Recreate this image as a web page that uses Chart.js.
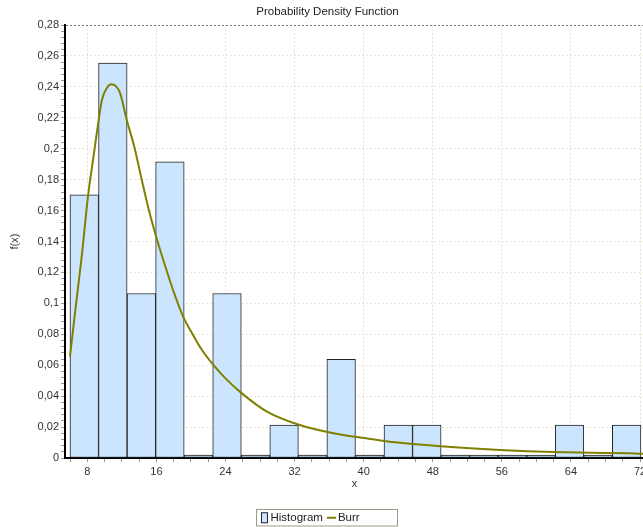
<!DOCTYPE html>
<html>
<head>
<meta charset="utf-8">
<title>Probability Density Function</title>
<script src="https://cdn.jsdelivr.net/npm/chart.js@4.4.1/dist/chart.umd.min.js"></script>
<style>
  html, body { margin: 0; padding: 0; background: #fff; overflow: hidden; }
</style>
</head>
<body>
<canvas id="pdfChart" width="655" height="527"></canvas>
<script>
// ---- data ----
const binCenters = [7.65, 10.96, 14.26, 17.57, 20.87, 24.18, 27.48, 30.79, 34.09, 37.40,
                    40.70, 44.01, 47.31, 50.62, 53.92, 57.23, 60.53, 63.84, 67.14, 70.45];
const histValues = [0.1702, 0.2553, 0.1064, 0.1915, 0, 0.1064, 0, 0.0213, 0, 0.0638,
                    0, 0.0213, 0.0213, 0, 0, 0, 0, 0.0213, 0, 0.0213];

const burrX = [6.0, 6.6, 7.35, 8.1, 8.7, 9.1, 9.7, 10.25, 10.75, 11.3, 11.8, 12.55, 13.5, 14.3,
               15.1, 15.85, 16.8, 18.0, 19.1, 20.2, 21.2, 22.6, 24.0, 25.9, 28.8, 32.6, 36.5,
               40.3, 43.0, 48.5, 55.8, 62.0, 66.5, 70.8, 72.46];
const burrY = [0.0655, 0.095, 0.130, 0.170, 0.194, 0.210, 0.2316, 0.2391, 0.2417, 0.2405, 0.2360,
               0.2190, 0.2000, 0.180, 0.161, 0.1455, 0.128, 0.1075, 0.0914, 0.080, 0.0705, 0.0602,
               0.0515, 0.0418, 0.030, 0.0213, 0.016, 0.0127, 0.0105, 0.0078, 0.0052, 0.0038,
               0.0034, 0.0030, 0.0027];

const xTickLabels = [8, 16, 24, 32, 40, 48, 56, 64, 72];
const yTickLabels = ["0", "0,02", "0,04", "0,06", "0,08", "0,1", "0,12", "0,14",
                     "0,16", "0,18", "0,2", "0,22", "0,24", "0,26", "0,28"];

// ---- styles ----
const GRID = "rgba(222,222,196,0.75)";
const isMajorY = (v) => Math.abs(v / 0.02 - Math.round(v / 0.02)) < 1e-6;

Chart.defaults.font.family = "'Liberation Sans', Arial, sans-serif";
Chart.defaults.font.size = 11;
Chart.defaults.color = "#333";

// 凡例（枠つき）を自前で描く
const pdfLegend = {
  id: "pdfLegend",
  afterDraw(chart) {
    const ctx = chart.ctx;
    const [hist, burr] = chart.data.datasets;
    const boxL = 256.5, boxT = 509.5, boxW = 141, boxH = 16.5;
    const cy = boxT + boxH / 2;
    ctx.save();
    ctx.strokeStyle = "#9a9a88";
    ctx.lineWidth = 1;
    ctx.strokeRect(boxL, boxT, boxW, boxH);

    // Histogram swatch
    let x = boxL + 5;
    ctx.fillStyle = hist.backgroundColor;
    ctx.fillRect(x, cy - 5, 6, 10);
    ctx.strokeStyle = hist.borderColor;
    ctx.strokeRect(x, cy - 5, 6, 10);
    x += 9;
    ctx.font = "11.5px 'Liberation Sans', Arial, sans-serif";
    ctx.fillStyle = "#222";
    ctx.textBaseline = "middle";
    ctx.fillText(hist.label, x, cy);
    x += ctx.measureText(hist.label).width + 4;

    // Burr line
    ctx.strokeStyle = burr.borderColor;
    ctx.lineWidth = 2;
    ctx.beginPath();
    ctx.moveTo(x, cy);
    ctx.lineTo(x + 9, cy);
    ctx.stroke();
    x += 11;
    ctx.fillText(burr.label, x, cy);
    ctx.restore();
  }
};

new Chart(document.getElementById("pdfChart"), {
  type: "bar",
  data: {
    datasets: [
      {
        type: "bar",
        label: "Histogram",
        data: binCenters.map((x, i) => ({ x, y: histValues[i] })),
        backgroundColor: "#cce5ff",
        borderColor: "#222",
        borderWidth: 1,
        borderSkipped: false,
        barThickness: "flex",
        categoryPercentage: 1,
        barPercentage: 1,
        minBarLength: 3,
        order: 1
      },
      {
        type: "line",
        label: "Burr",
        data: burrX.map((x, i) => ({ x, y: burrY[i] })),
        borderColor: "#808000",
        borderWidth: 2,
        pointRadius: 0,
        cubicInterpolationMode: "monotone",
        fill: false,
        order: 0
      }
    ]
  },
  options: {
    responsive: false,
    animation: false,
    devicePixelRatio: 1,
    layout: { padding: { left: 0, right: 0, top: 0, bottom: 32 } },
    plugins: {
      legend: { display: false },
      tooltip: { enabled: false },
      title: {
        display: true,
        text: "Probability Density Function",
        color: "#222",
        font: { size: 11.5, weight: "normal" },
        padding: { top: 5, bottom: 6.2 }
      }
    },
    scales: {
      x: {
        type: "linear",
        min: 5.42,
        max: 72.46,
        offset: false,
        afterFit: (s) => { s.height = 37; s.paddingRight = 11; },
        ticks: {
          stepSize: 2,
          includeBounds: false,
          autoSkip: false,
          maxRotation: 0,
          padding: 3,
          color: "#333",
          callback: (v) => xTickLabels.includes(v) ? String(v) : ""
        },
        grid: {
          offset: false,
          color: (c) => c.tick && xTickLabels.includes(c.tick.value) ? GRID : "transparent",
          tickColor: "#999",
          tickLength: 4
        },
        border: { color: "#000", width: 2, dash: [2, 2] },
        title: { display: true, text: "x", color: "#333", padding: { top: 0, bottom: 4 } }
      },
      y: {
        min: 0,
        max: 0.28,
        afterFit: (s) => { s.width = 65; },
        ticks: {
          stepSize: 0.004,
          autoSkip: false,
          padding: 2,
          color: "#333",
          callback: (v) => isMajorY(v) ? yTickLabels[Math.round(v / 0.02)] : ""
        },
        grid: {
          color: (c) => {
            if (!c.tick || !isMajorY(c.tick.value)) return "transparent";
            return c.tick.value > 0.279 ? "#777" : GRID;
          },
          tickColor: "#999",
          tickLength: 4
        },
        border: { color: "#000", width: 2, dash: [2, 2] },
        title: { display: true, text: "f(x)", color: "#333", padding: { top: 8.4, bottom: 0 } }
      }
    }
  },
  plugins: [pdfLegend]
});
</script>
</body>
</html>
